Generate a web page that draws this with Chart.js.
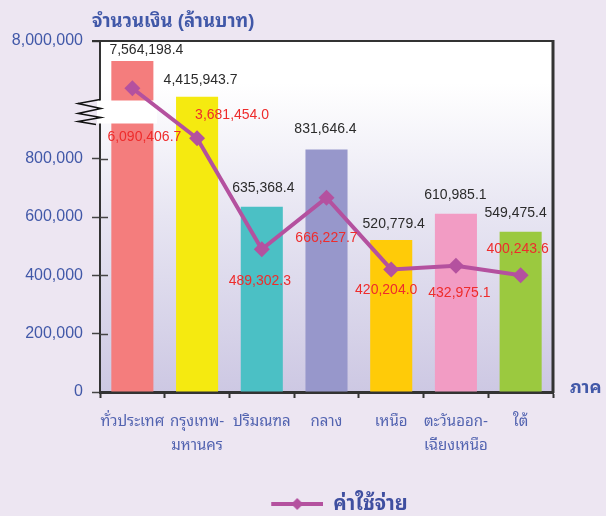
<!DOCTYPE html>
<html>
<head>
<meta charset="utf-8">
<script src="https://cdn.jsdelivr.net/npm/chart.js@4.4.1/dist/chart.umd.min.js"></script>
<style>
  html, body { margin: 0; padding: 0; background: #ede6f2; }
  #wrap { width: 606px; height: 516px; position: relative; }
  canvas { display: block; }
</style>
</head>
<body>
<div id="wrap"><canvas id="c" width="606" height="516"></canvas></div>
<script>
// ---------- data ----------
const categories = ['ทั่วประเทศ', ['กรุงเทพ-', 'มหานคร'], 'ปริมณฑล', 'กลาง', 'เหนือ', ['ตะวันออก-', 'เฉียงเหนือ'], 'ใต้'];
const amountValues = [7564198.4, 4415943.7, 635368.4, 831646.4, 520779.4, 610985.1, 549475.4];
const expenseValues = [6090406.7, 3681454.0, 489302.3, 666227.7, 420204.0, 432975.1, 400243.6];
const yTickValues = [0, 200000, 400000, 600000, 800000, 8000000];
const amountLabel = 'จำนวนเงิน';
const expenseLabel = 'ค่าใช้จ่าย';
const yTitle = 'จำนวนเงิน (ล้านบาท)';
const xTitle = 'ภาค';

// ---------- styles ----------
const FONT = "'Liberation Sans', 'Noto Sans Thai Looped', Loma, Garuda, Norasi, 'Noto Sans Thai', 'Noto Sans', sans-serif";
const barColors = ['#f47d7d', '#f5ea10', '#4bc0c5', '#9797cb', '#ffcb08', '#f29cc4', '#9bc93f'];
const lineColor = '#b4519f';
const blueText = '#4158a8';

// broken value axis: [value, fraction of plot height]
const yBreaks = [[0, 0], [850000, 0.7063], [3700000, 0.7230], [4500000, 0.855], [6000000, 0.8608], [7500000, 0.935], [8000000, 1]];
function valueToFrac(v) {
  for (let i = 1; i < yBreaks.length; i++) {
    const [v0, f0] = yBreaks[i - 1], [v1, f1] = yBreaks[i];
    if (v <= v1 || i === yBreaks.length - 1) return f0 + (v - v0) / (v1 - v0) * (f1 - f0);
  }
  return 0;
}
function fracToValue(f) {
  for (let i = 1; i < yBreaks.length; i++) {
    const [v0, f0] = yBreaks[i - 1], [v1, f1] = yBreaks[i];
    if (f <= f1 || i === yBreaks.length - 1) return v0 + (f - f0) / (f1 - f0) * (v1 - v0);
  }
  return 0;
}
class BrokenScale extends Chart.LinearScale {
  static id = 'broken';
  buildTicks() { return yTickValues.map(v => ({ value: v })); }
  getPixelForValue(v) { return this.bottom - valueToFrac(v) * (this.bottom - this.top); }
  getValueForPixel(p) { return fracToValue((this.bottom - p) / (this.bottom - this.top)); }
}
Chart.register(BrokenScale);

Chart.defaults.font.family = FONT;

function fmt1(v) { return v.toLocaleString('en-US', { minimumFractionDigits: 1, maximumFractionDigits: 1 }); }

function makeLegendIcon() {
  const c = document.createElement('canvas');
  c.width = 78; c.height = 14;
  const g = c.getContext('2d');
  g.strokeStyle = lineColor; g.lineWidth = 4;
  g.beginPath(); g.moveTo(26, 7); g.lineTo(78, 7); g.stroke();
  g.fillStyle = lineColor;
  g.beginPath(); g.moveTo(52, 1); g.lineTo(58, 7); g.lineTo(52, 13); g.lineTo(46, 7); g.closePath(); g.fill();
  return c;
}

const backgroundPlugin = {
  id: 'bgPlot',
  beforeDraw(chart) {
    const { ctx, chartArea: a, width, height } = chart;
    ctx.save();
    ctx.fillStyle = '#ede6f2';
    ctx.fillRect(0, 0, width, height);
    const g = ctx.createLinearGradient(0, a.top, 0, a.bottom);
    g.addColorStop(0, '#ffffff');
    g.addColorStop(0.12, '#ffffff');
    g.addColorStop(0.5, '#e7e5f2');
    g.addColorStop(1, '#cdc8e3');
    ctx.fillStyle = g;
    ctx.fillRect(a.left, a.top, a.right - a.left, a.bottom - a.top);
    ctx.restore();
  }
};

const breakPlugin = {
  id: 'axisBreak',
  afterDatasetDraw(chart, args, opts) {
    if (args.index !== 0) return;
    const { ctx, chartArea: a } = chart;
    ctx.save();
    ctx.fillStyle = '#ffffff';
    ctx.fillRect(a.left - 3, a.top + opts.boxTop, opts.boxWidth + 3, opts.boxHeight);
    ctx.strokeStyle = '#111';
    ctx.lineWidth = 1.5;
    ctx.beginPath();
    opts.zig.forEach((p, i) => {
      const x = a.left + p[0], y = a.top + opts.boxTop + p[1];
      if (i === 0) ctx.moveTo(x, y); else ctx.lineTo(x, y);
    });
    ctx.stroke();
    ctx.restore();
  }
};

const framePlugin = {
  id: 'frame',
  afterDraw(chart) {
    const { ctx, chartArea: a } = chart;
    const ys = chart.scales.y;
    ctx.save();
    ctx.strokeStyle = '#333';
    ctx.lineWidth = 2;
    ctx.beginPath(); ctx.moveTo(a.left - 8, a.top); ctx.lineTo(a.right + 1, a.top); ctx.stroke();
    ctx.lineWidth = 3;
    ctx.beginPath(); ctx.moveTo(a.right, a.top - 1); ctx.lineTo(a.right, a.bottom + 1); ctx.stroke();
    // inner tick marks for the lower axis segment
    ctx.strokeStyle = '#444';
    ctx.lineWidth = 1.5;
    yTickValues.filter(v => v > 0 && v <= 800000).forEach(v => {
      const y = Math.round(ys.getPixelForValue(v)) + 0.5;
      ctx.beginPath(); ctx.moveTo(a.left, y); ctx.lineTo(a.left + 8, y); ctx.stroke();
    });
    // titles
    ctx.fillStyle = blueText;
    ctx.textBaseline = 'middle';
    ctx.textAlign = 'left';
    ctx.font = 'bold 18.5px ' + FONT;
    ctx.fillText(yTitle, 92, 22);
    ctx.font = 'bold 18px ' + FONT;
    ctx.fillText(xTitle, a.right + 17, a.bottom - 4);
    ctx.restore();
  }
};

const valueLabelPlugin = {
  id: 'valueLabels',
  afterDatasetsDraw(chart, args, opts) {
    const ctx = chart.ctx;
    opts.sets.forEach(s => {
      const meta = chart.getDatasetMeta(s.dataset);
      const data = chart.data.datasets[s.dataset].data;
      ctx.save();
      ctx.font = '14px ' + FONT;
      ctx.fillStyle = s.color;
      ctx.textAlign = 'center';
      ctx.textBaseline = 'middle';
      meta.data.forEach((el, i) => {
        const o = s.offsets[i];
        ctx.fillText(fmt1(data[i]), el.x + o[0], el.y + o[1]);
      });
      ctx.restore();
    });
  }
};

const legendShiftPlugin = {
  id: 'legendShift',
  afterLayout(chart) {
    if (chart.legend) { chart.legend.top += 8; chart.legend.bottom += 8; }
  }
};

new Chart(document.getElementById('c'), {
  type: 'bar',
  data: {
    labels: categories,
    datasets: [
      {
        type: 'bar',
        label: amountLabel,
        data: amountValues,
        backgroundColor: barColors,
        borderWidth: 0,
        categoryPercentage: 1,
        barPercentage: 0.65,
        order: 1
      },
      {
        type: 'line',
        label: expenseLabel,
        data: expenseValues,
        borderColor: lineColor,
        backgroundColor: lineColor,
        borderWidth: 4,
        pointStyle: 'rectRot',
        pointRadius: 8,
        pointBackgroundColor: lineColor,
        pointBorderWidth: 0,
        tension: 0,
        order: 0
      }
    ]
  },
  options: {
    responsive: false,
    animation: false,
    devicePixelRatio: 1,
    layout: { padding: { left: 0, right: 53, top: 41, bottom: 0 } },
    scales: {
      x: {
        grid: { offset: true, drawOnChartArea: false, drawTicks: true, tickLength: 6, tickColor: '#333', tickWidth: 2 },
        border: { display: true, color: '#333', width: 3 },
        ticks: { color: '#5263b0', font: { size: 15, lineHeight: 1.6 }, padding: 12, maxRotation: 0, autoSkip: false },
        afterFit(s) { s.height = 84; }
      },
      y: {
        type: 'broken',
        min: 0,
        max: 8000000,
        grid: { drawOnChartArea: false, drawTicks: true, tickLength: 8, tickColor: '#444', tickWidth: 1.5 },
        border: { display: true, color: '#333', width: 2 },
        ticks: { color: blueText, font: { size: 16 }, padding: 9, callback: v => Number(v).toLocaleString('en-US') },
        afterFit(s) { s.width = 100; }
      }
    },
    plugins: {
      legend: {
        position: 'bottom',
        fullSize: false,
        labels: {
          usePointStyle: true,
          pointStyle: makeLegendIcon(),
          pointStyleWidth: 78,
          color: '#3f4fa0',
          font: { size: 20, weight: 'bold' },
          padding: 10,
          filter: item => item.datasetIndex === 1
        }
      },
      tooltip: { enabled: false },
      axisBreak: {
        boxTop: 59.5, boxHeight: 23, boxWidth: 57,
        zig: [[0, -1], [-22, 3], [1, 8], [-22, 13], [1, 17], [-22, 21], [-4, 24]]
      },
      valueLabels: {
        sets: [
          { dataset: 0, color: '#2b2b2b', offsets: [[14, -11], [3.5, -17], [1.5, -18.5], [-1, -20.5], [2.5, -15.5], [-0.5, -19], [-5, -19]] },
          { dataset: 1, color: '#ee2c2c', offsets: [[12, 48.5], [35, -23.5], [-2, 32], [0, 40], [-5, 20.5], [3.5, 27.5], [-3, -26.5]] }
        ]
      }
    }
  },
  plugins: [backgroundPlugin, breakPlugin, framePlugin, valueLabelPlugin, legendShiftPlugin]
});
</script>
</body>
</html>
